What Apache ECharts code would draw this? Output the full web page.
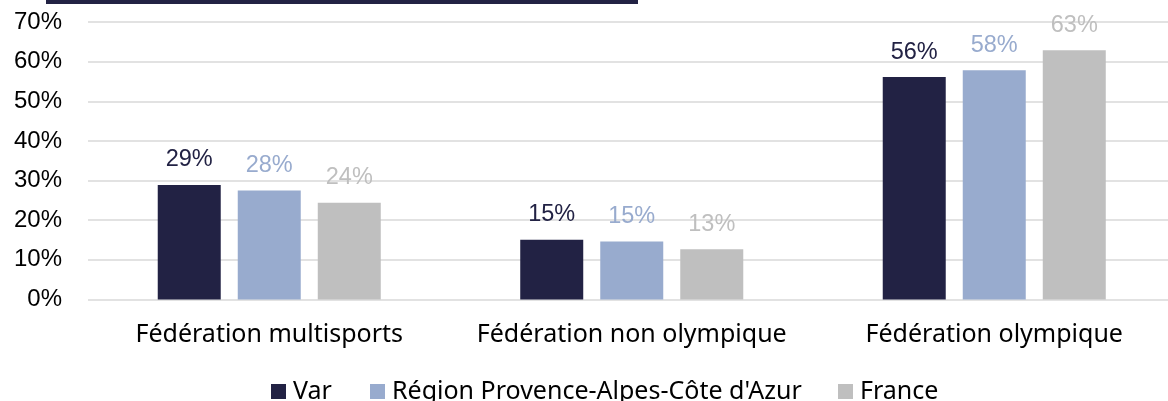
<!DOCTYPE html>
<html>
<head>
<meta charset="utf-8">
<script src="https://cdn.jsdelivr.net/npm/echarts@6/dist/echarts.min.js"></script>
<style>
  html, body { margin: 0; padding: 0; background: #fff; overflow: hidden; }
  #chart { width: 1176px; height: 401px; }
</style>
</head>
<body>
<div id="chart"></div>
<script>
// données
const categories = ['Fédération multisports', 'Fédération non olympique', 'Fédération olympique']
const seriesNames = ['Var', "Région Provence-Alpes-Côte d'Azur", 'France']
const varData = [28.9, 15.1, 56.1]
const regionData = [27.5, 14.6, 57.8]
const franceData = [24.4, 12.7, 62.9]
const yTicks = [0, 10, 20, 30, 40, 50, 60, 70]

const colors = ['#222244', '#98abce', '#bfbfbf']
const values = [varData, regionData, franceData]

const chart = echarts.init(document.getElementById('chart'))

const series = values.map((arr, idx) => ({
  name: seriesNames[idx],
  type: 'bar',
  data: arr,
  barWidth: 63,
  barGap: '27%',
  itemStyle: { color: colors[idx] },
  label: {
    show: true,
    position: 'top',
    distance: 13,
    color: colors[idx],
    fontFamily: 'Liberation Sans',
    fontSize: 23.5,
    formatter: p => Math.round(p.value) + '%'
  }
}))

// une légende par série, pour placer chaque entrée
const legendLeft = [271, 370, 838]
const legends = seriesNames.map((name, idx) => ({
  data: [name],
  left: legendLeft[idx],
  top: 379,
  icon: 'rect',
  itemWidth: 15,
  itemHeight: 15,
  itemGap: 0,
  padding: 0,
  textStyle: { fontFamily: 'Noto Sans', fontSize: 25, color: '#000', padding: [0, 0, 0, 2] }
}))

chart.setOption({
  animation: false,
  grid: { left: 88, top: 22, right: 0.5, height: 277.5 },
  legend: legends,
  xAxis: {
    type: 'category',
    data: categories,
    axisLine: { show: false },
    axisTick: { show: false },
    axisLabel: { interval: 0, color: '#000', fontFamily: 'Noto Sans', fontSize: 25, margin: 23 }
  },
  yAxis: {
    type: 'value',
    min: yTicks[0],
    max: yTicks[yTicks.length - 1],
    interval: 10,
    axisLine: { show: false },
    axisTick: { show: false },
    axisLabel: { color: '#000', fontFamily: 'Liberation Sans', fontSize: 24, margin: 26, formatter: '{value}%' },
    splitLine: { lineStyle: { color: '#d9d9d9', width: 1.5 } }
  },
  graphic: [{
    type: 'rect',
    shape: { x: 46, y: 0, width: 592, height: 4 },
    style: { fill: '#222244' }
  }],
  series
})
</script>
</body>
</html>
